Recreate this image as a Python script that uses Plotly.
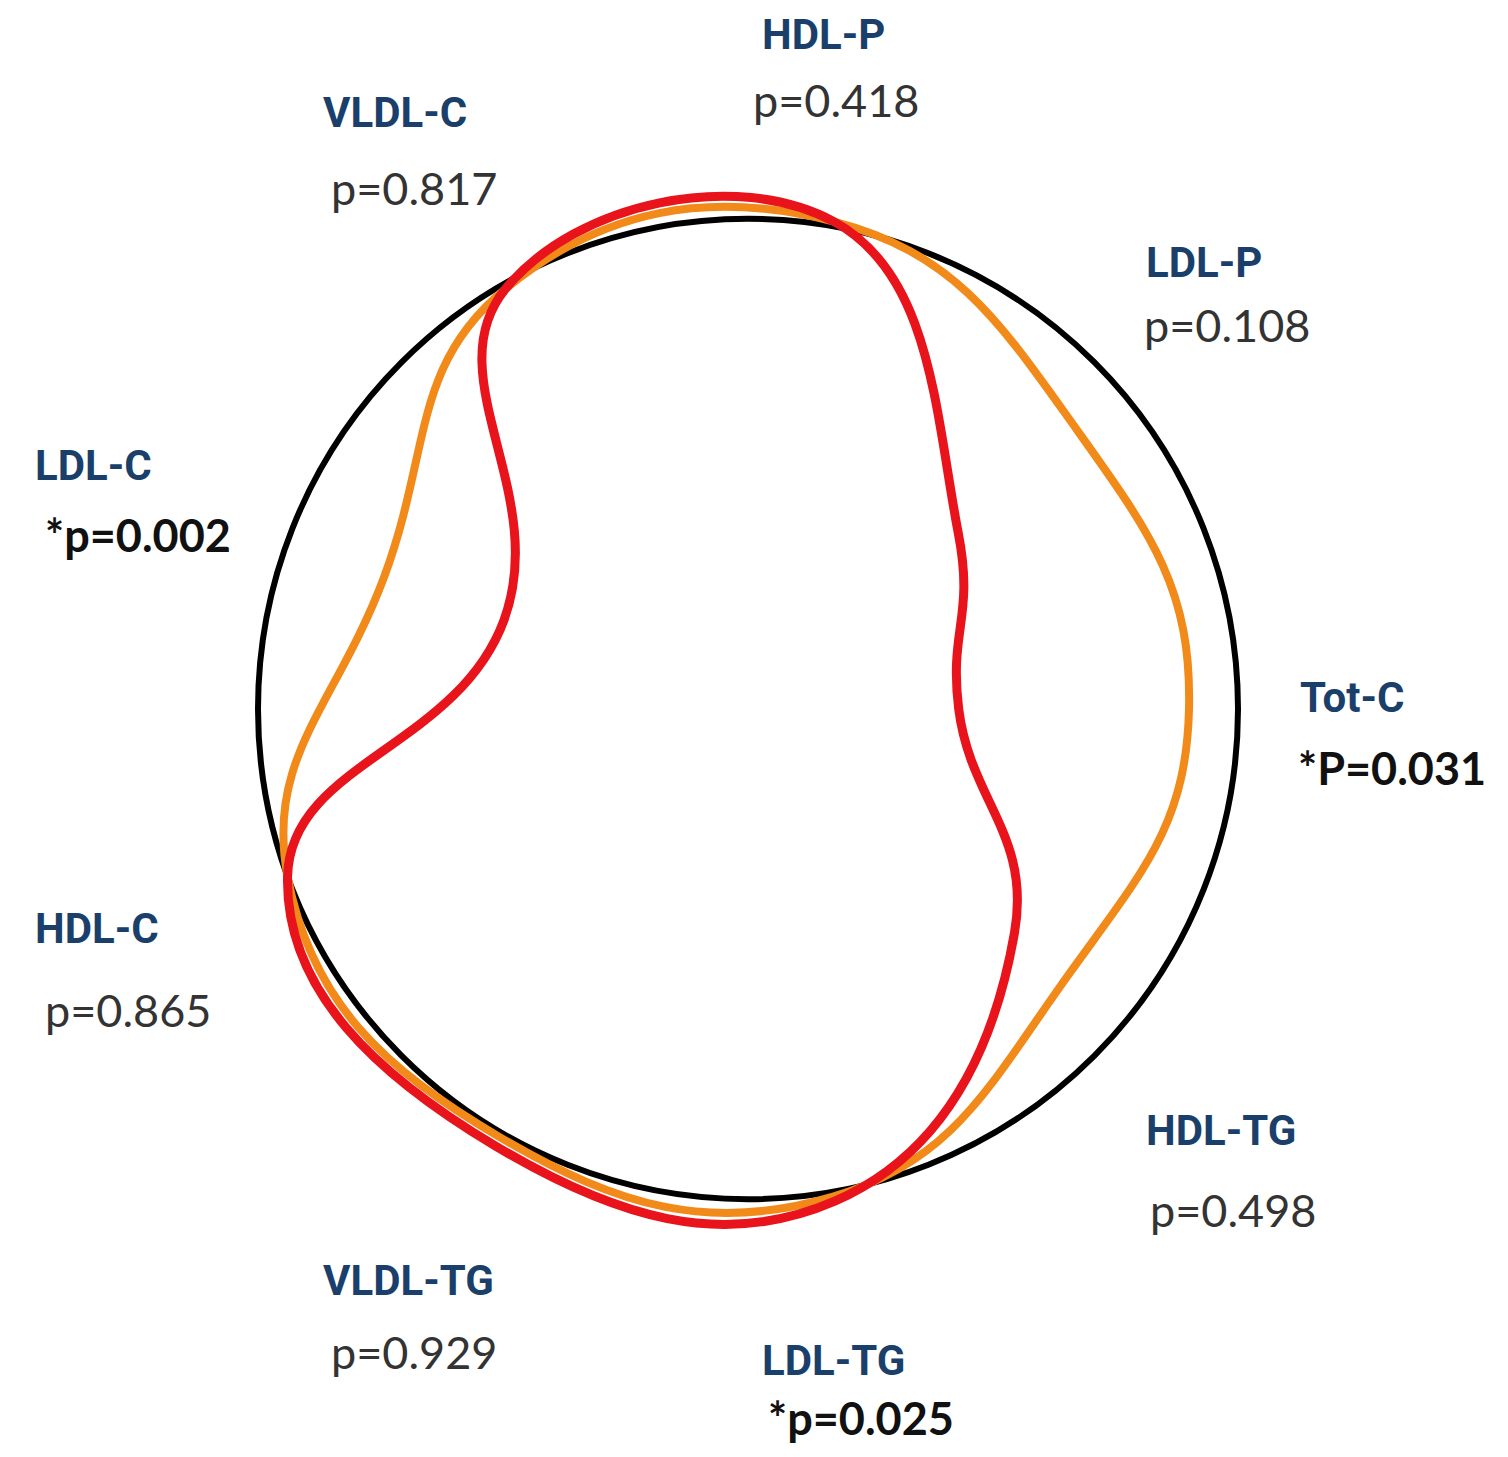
import plotly.graph_objects as go

# ---- data ----
categories = ["HDL-P", "LDL-P", "Tot-C", "HDL-TG", "LDL-TG", "VLDL-TG", "HDL-C", "LDL-C", "VLDL-C"]
p_labels = ["p=0.418", "p=0.108", "*P=0.031", "p=0.498", "*p=0.025", "p=0.929", "p=0.865", "*p=0.002", "p=0.817"]
significant = [False, False, True, False, True, False, False, True, False]
reference = [1.0, 1.0, 1.0, 1.0, 1.0, 1.0, 1.0, 1.0, 1.0]
group_orange = [1.01, 0.88, 0.90, 0.85, 1.01, 1.01, 1.00, 0.79, 0.99]
group_red = [1.01, 0.56, 0.43, 0.71, 1.02, 1.03, 1.00, 0.53, 0.99]

# ---- layout (label placement in pixels: left x / center y) ----
W, H = 1508, 1457
name_pos = {
    "HDL-P": (752, 27), "LDL-P": (1136, 254), "Tot-C": (1290, 689), "HDL-TG": (1136, 1122),
    "LDL-TG": (752, 1352), "VLDL-TG": (313, 1272), "HDL-C": (25, 920), "LDL-C": (25, 457),
    "VLDL-C": (313, 104),
}
p_pos = {
    "HDL-P": (743, 92), "LDL-P": (1134, 317), "Tot-C": (1288, 760), "HDL-TG": (1140, 1202),
    "LDL-TG": (758, 1410), "VLDL-TG": (321, 1344), "HDL-C": (35, 1002), "LDL-C": (35, 527),
    "VLDL-C": (321, 180),
}

def closed(vals):
    return list(vals) + [vals[0]]

theta = closed(categories)

fig = go.Figure()
# reference series: drawn as the outer ring of the first polar subplot (range 0..1)
fig.add_trace(go.Scatterpolar(r=closed(reference), theta=theta, mode="lines", subplot="polar",
                              line=dict(color="rgba(0,0,0,0)", width=1),
                              hoverinfo="skip", showlegend=False))
fig.add_trace(go.Scatterpolar(r=closed(group_orange), theta=theta, mode="lines", subplot="polar2",
                              line=dict(color="#F28A1A", width=8, shape="spline", smoothing=1.3),
                              showlegend=False))
fig.add_trace(go.Scatterpolar(r=closed(group_red), theta=theta, mode="lines", subplot="polar2",
                              line=dict(color="#E8131B", width=9, shape="spline", smoothing=1.3),
                              showlegend=False))

cx, cy, R = 740, 701, 490
rmax = 1.08
R2 = R * rmax


def dom(rad):
    return dict(x=[(cx - rad) / W, (cx + rad) / W], y=[(H - cy - rad) / H, (H - cy + rad) / H])


common_ang = dict(rotation=80, direction="clockwise", showgrid=False,
                  showticklabels=False, ticks="")
fig.update_layout(
    width=W, height=H, margin=dict(l=0, r=0, t=0, b=0),
    paper_bgcolor="white", plot_bgcolor="white",
    polar=dict(
        domain=dom(R),
        bgcolor="rgba(0,0,0,0)",
        radialaxis=dict(range=[0, max(reference)], visible=False, showgrid=False,
                        showline=False, showticklabels=False),
        angularaxis=dict(showline=True, linecolor="#000000", linewidth=6, **common_ang),
    ),
    polar2=dict(
        domain=dom(R2),
        bgcolor="rgba(0,0,0,0)",
        radialaxis=dict(range=[0, rmax], visible=False, showgrid=False,
                        showline=False, showticklabels=False),
        angularaxis=dict(showline=False, **common_ang),
    ),
)

annotations = []
for cat, pl, sig in zip(categories, p_labels, significant):
    nx, ny = name_pos[cat]
    px, py = p_pos[cat]
    annotations.append(dict(x=nx / W, y=1 - ny / H, xref="paper", yref="paper",
                            xanchor="left", yanchor="middle", showarrow=False,
                            text="<b>" + cat + "</b>",
                            font=dict(family="Liberation Sans Narrow, Roboto, sans-serif",
                                      size=42, color="#1B3F6B")))
    annotations.append(dict(x=px / W, y=1 - py / H, xref="paper", yref="paper",
                            xanchor="left", yanchor="middle", showarrow=False,
                            text=("<b>" + pl + "</b>") if sig else pl,
                            font=dict(family="Lato, Open Sans, sans-serif", size=45,
                                      color="#111111" if sig else "#333333")))
fig.update_layout(annotations=annotations)

fig.write_html("out.html")
